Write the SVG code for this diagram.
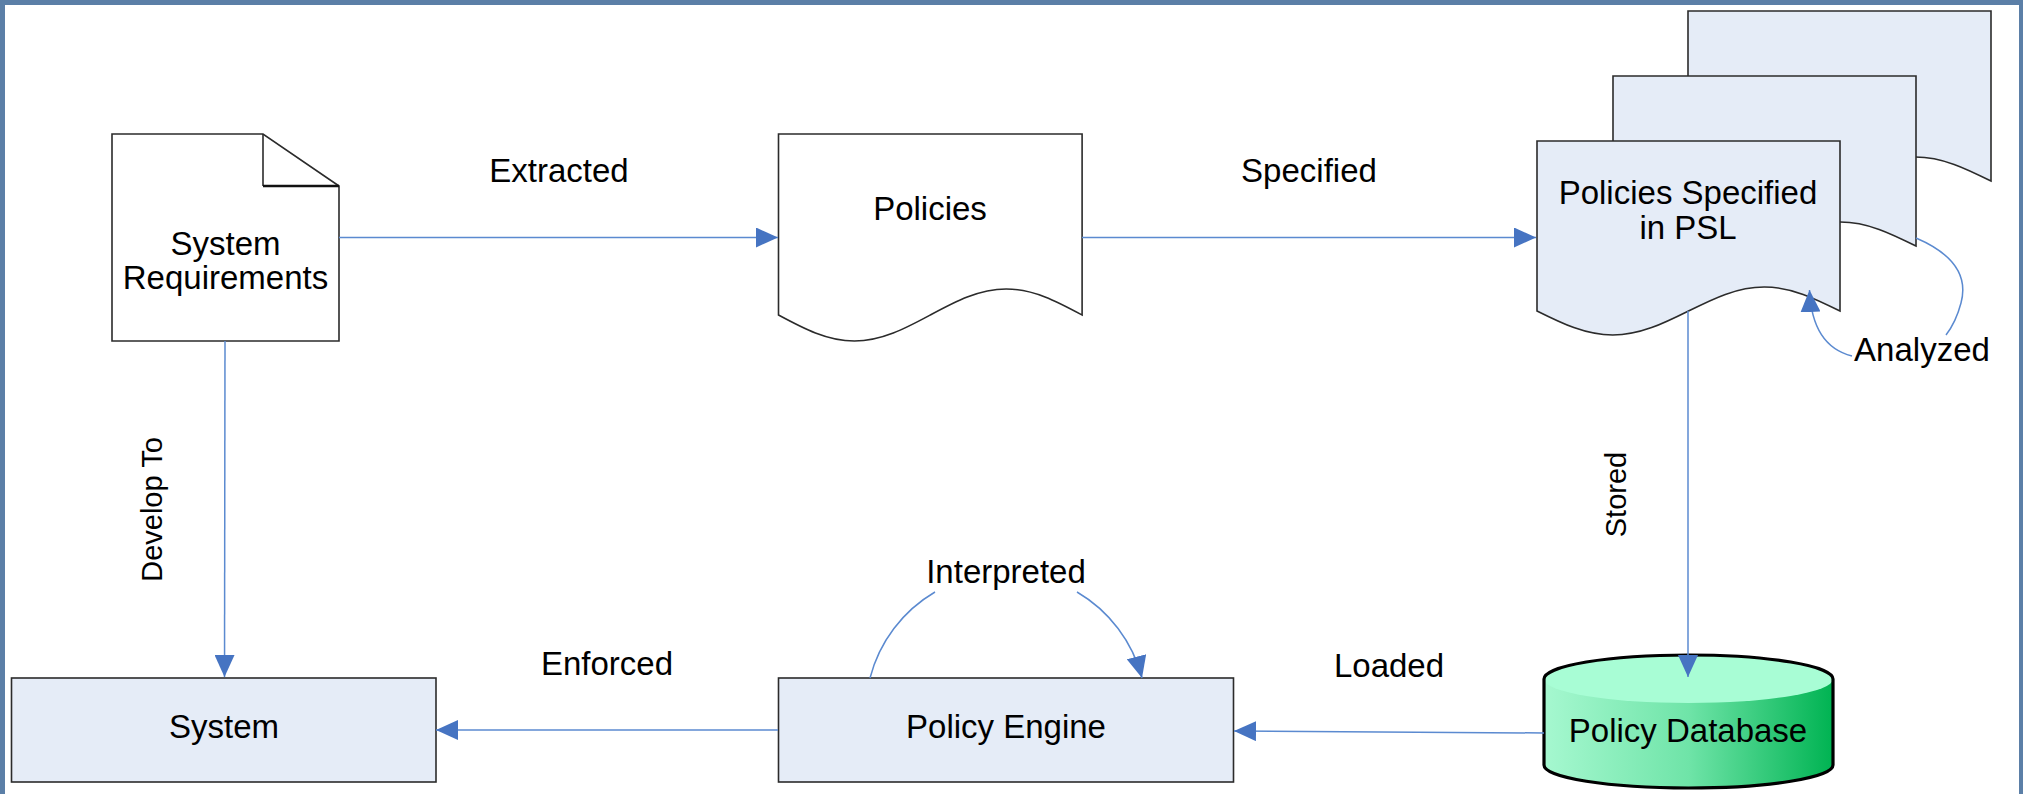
<svg xmlns="http://www.w3.org/2000/svg" width="2023" height="794" viewBox="0 0 2023 794">
  <defs>
    <style>
      .lbl { font-family: "Liberation Sans", Arial, sans-serif; font-size: 33px; fill: #000; text-anchor: middle; }
      .vlbl { font-family: "Liberation Sans", Arial, sans-serif; font-size: 29px; fill: #000; text-anchor: middle; }
      .node { fill: #e5ecf7; stroke: #2b2b2b; stroke-width: 1.6; }
      .paper { fill: #ffffff; stroke: #2b2b2b; stroke-width: 1.6; }
      .conn { fill: none; stroke: #5b8ad0; stroke-width: 1.5; }
    </style>
    <marker id="arrow" viewBox="0 0 22 20" markerWidth="22" markerHeight="20" refX="22" refY="10" orient="auto" markerUnits="userSpaceOnUse">
      <path d="M0,0 L22,10 L0,20 Z" fill="#4674c2"/>
    </marker>
    <linearGradient id="dbBody" x1="0" y1="0" x2="1" y2="0">
      <stop offset="0" stop-color="#a6f8d0"/>
      <stop offset="0.5" stop-color="#6fe4a8"/>
      <stop offset="1" stop-color="#00b352"/>
    </linearGradient>
  </defs>

  <!-- page frame -->
  <rect x="0" y="0" width="2023" height="794" fill="#5b7fa7"/>
  <rect x="5" y="5" width="2014" height="789" fill="#ffffff"/>

  <!-- System Requirements: page with folded corner -->
  <g id="system-requirements">
    <path class="paper" d="M112,134 H263 L339,186 V341 H112 Z"/>
    <path fill="none" stroke="#2b2b2b" stroke-width="1.6" d="M263,134 V186"/>
    <path fill="none" stroke="#111" stroke-width="2.6" d="M263,186 H339"/>
    <text class="lbl" x="225.5" y="255">System</text>
    <text class="lbl" x="225.5" y="289">Requirements</text>
  </g>

  <!-- Policies: document shape -->
  <g id="policies">
    <path class="paper" d="M778.5,134 V315 c24.75,13.3 48.4,26 75.9,26 c27.5,0 51.1,-12.7 75.9,-26 c24.75,-13.3 48.4,-26 75.9,-26 c27.5,0 51.1,12.7 75.9,26 V134 Z"/>
    <text class="lbl" x="930" y="220">Policies</text>
  </g>

  <!-- Policies Specified in PSL: stack of documents -->
  <g id="policies-psl">
    <path class="node" d="M1688,11 V181 c24.7,12.3 48.3,24 75.75,24 c27.4,0 51.05,-11.7 75.75,-24 c24.7,-12.3 48.3,-24 75.75,-24 c27.4,0 51.05,11.7 75.75,24 V11 Z"/>
    <path class="node" d="M1613,76 V246 c24.7,12.3 48.3,24 75.75,24 c27.4,0 51.05,-11.7 75.75,-24 c24.7,-12.3 48.3,-24 75.75,-24 c27.4,0 51.05,11.7 75.75,24 V76 Z"/>
    <path class="node" d="M1537,141 V311 c24.7,12.3 48.3,24 75.75,24 c27.4,0 51.05,-11.7 75.75,-24 c24.7,-12.3 48.3,-24 75.75,-24 c27.4,0 51.05,11.7 75.75,24 V141 Z"/>
    <text class="lbl" x="1688" y="204">Policies Specified</text>
    <text class="lbl" x="1688" y="239">in PSL</text>
  </g>

  <!-- System -->
  <g id="system">
    <rect class="node" x="11.5" y="678" width="424.5" height="104"/>
    <text class="lbl" x="224" y="738">System</text>
  </g>

  <!-- Policy Engine -->
  <g id="policy-engine">
    <rect class="node" x="778.5" y="678" width="455" height="104"/>
    <text class="lbl" x="1006" y="738">Policy Engine</text>
  </g>

  <!-- Policy Database: cylinder -->
  <g id="policy-database">
    <path fill="url(#dbBody)" d="M1544,679 A144.5,24 0 0 1 1833,679 V765 A144.5,23 0 0 1 1544,765 Z"/>
    <ellipse cx="1688.5" cy="679" rx="144.5" ry="24" fill="#a8fdd5"/>
    <path fill="none" stroke="#000" stroke-width="3.2" d="M1544,679 A144.5,24 0 0 1 1833,679 V765 A144.5,23 0 0 1 1544,765 Z"/>
    <text class="lbl" x="1688" y="742">Policy Database</text>
  </g>

  <!-- connectors, drawn over the shapes so arrowheads stay visible -->
  <g id="connectors">
    <path class="conn" d="M339,237.5 H778" marker-end="url(#arrow)"/>
    <path class="conn" d="M1082,237.5 H1536" marker-end="url(#arrow)"/>
    <path class="conn" d="M225,341 L224.5,677" marker-end="url(#arrow)"/>
    <path class="conn" d="M1688,311 V677" marker-end="url(#arrow)"/>
    <path class="conn" d="M778,730 H436" marker-end="url(#arrow)"/>
    <path class="conn" d="M1544,733 L1234,731" marker-end="url(#arrow)"/>
    <!-- Interpreted self-loop -->
    <path class="conn" d="M870,678 A140.4,140.4 0 0 1 935,592"/>
    <path class="conn" d="M1077,592 A140.4,140.4 0 0 1 1142,678" marker-end="url(#arrow)"/>
    <!-- Analyzed self-loop -->
    <path class="conn" d="M1916,238 Q1972,262 1961,303 Q1956,322 1946,335"/>
    <path class="conn" d="M1852,356 Q1812,346 1809.5,290" marker-end="url(#arrow)"/>
  </g>

  <!-- connector labels -->
  <g id="labels">
    <text class="lbl" x="559" y="182">Extracted</text>
    <text class="lbl" x="1309" y="182">Specified</text>
    <text class="lbl" x="1922" y="361">Analyzed</text>
    <text class="lbl" x="1006" y="583">Interpreted</text>
    <text class="lbl" x="607" y="675">Enforced</text>
    <text class="lbl" x="1389" y="677">Loaded</text>
    <text class="vlbl" transform="translate(162,509.5) rotate(-90)">Develop To</text>
    <text class="vlbl" transform="translate(1626,494.5) rotate(-90)">Stored</text>
  </g>
</svg>
